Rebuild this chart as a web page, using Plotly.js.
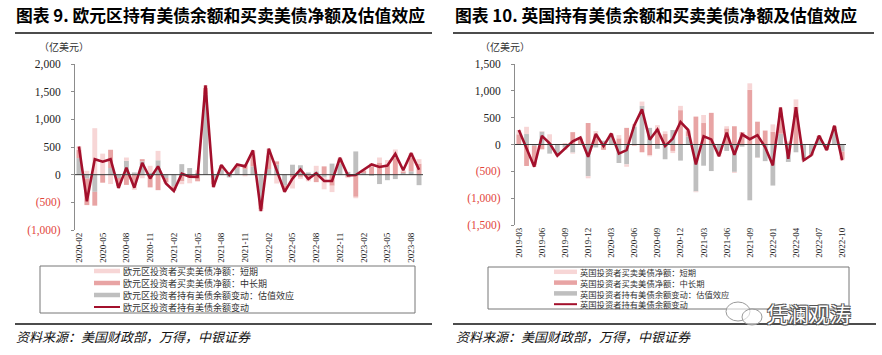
<!DOCTYPE html>
<html><head><meta charset="utf-8">
<script src="https://cdn.plot.ly/plotly-3.0.1.min.js"></script>
<style>html,body{margin:0;padding:0;background:#fff;}#chart{width:882px;height:355px;}</style>
</head><body><div id="chart"></div>
<script>
// ---------- Euro area (图表 9) ----------
const euMonths = ['2020-02','2020-03','2020-04','2020-05','2020-06','2020-07','2020-08','2020-09','2020-10','2020-11','2020-12',
  '2021-01','2021-02','2021-03','2021-04','2021-05','2021-06','2021-07','2021-08','2021-09','2021-10','2021-11','2021-12',
  '2022-01','2022-02','2022-03','2022-04','2022-05','2022-06','2022-07','2022-08','2022-09','2022-10','2022-11','2022-12',
  '2023-01','2023-02','2023-03','2023-04','2023-05','2023-06','2023-07','2023-08','2023-09'];
const euShort =     [60,70,840,380,-170,-30,60,-125,-65,120,170,-20,-25,-52,-96,50,45,-45,25,15,25,-30,90,-40,120,-160,-50,-200,-35,-30,100,-225,-115,25,-22,-26,20,55,90,85,155,20,80,80];
const euMidLong =   [150,-480,-250,-145,330,-150,-185,-150,40,-230,-280,-80,-60,-120,-60,-120,120,-80,60,30,40,80,200,-120,250,60,-60,-50,-40,-90,-135,150,-200,80,-40,-400,40,150,220,180,300,30,250,200];
const euValuation = [300,-70,-310,0,120,-60,250,40,240,40,260,-60,-210,190,120,30,1450,-100,90,-50,120,100,150,-500,100,180,-200,180,170,40,60,-40,200,200,50,420,30,-20,-170,-100,-80,30,60,-190];
const euTotal =     [510,-480,280,235,280,-240,125,-235,215,-70,150,-160,-295,18,-36,-40,1615,-225,175,-5,185,150,440,-660,470,80,-310,-70,95,-80,25,-115,-115,305,-12,-6,90,185,140,165,375,80,390,90];
const euYTicks = [-1000,-500,0,500,1000,1500,2000];
const euNames = ['欧元区投资者买卖美债净额：短期','欧元区投资者买卖美债净额：中长期','欧元区投资者持有美债余额变动：估值效应','欧元区投资者持有美债余额变动'];

// ---------- UK (图表 10) ----------
const ukMonths = ['2019-03','2019-04','2019-05','2019-06','2019-07','2019-08','2019-09','2019-10','2019-11','2019-12',
  '2020-01','2020-02','2020-03','2020-04','2020-05','2020-06','2020-07','2020-08','2020-09','2020-10','2020-11','2020-12',
  '2021-01','2021-02','2021-03','2021-04','2021-05','2021-06','2021-07','2021-08','2021-09','2021-10','2021-11',
  '2022-01','2022-02','2022-03','2022-04','2022-05','2022-06','2022-07','2022-08','2022-09','2022-10'];
const ukShort =     [80,135,-30,10,160,-10,-40,-20,20,-40,60,0,5,60,-45,50,80,-20,60,50,-40,80,20,-15,150,0,-40,40,-20,0,120,-5,0,135,90,20,140,0,0,5,0,10,-25];
const ukMidLong =   [190,-400,-360,-90,30,-20,20,230,100,400,190,-100,20,115,310,-20,-145,-200,300,195,-120,640,100,520,400,590,-60,300,340,230,1020,425,260,240,400,40,700,-15,-20,20,-15,40,-140];
const ukValuation = [0,195,-25,240,-170,-180,-60,-150,10,-590,-55,70,180,-345,-370,330,720,310,-80,-275,270,-300,150,-875,-395,-495,-120,-120,-510,-40,-1040,-245,-310,-765,200,-325,-145,-280,-180,140,-90,300,-130];
const ukTotal =     [270,-70,-415,160,20,-210,-80,60,130,-230,195,-30,205,-170,-105,360,655,90,280,-30,110,420,270,-370,155,95,-220,220,-190,190,100,175,-50,-390,690,-265,695,-295,-200,165,-105,350,-295];
const ukYTicks = [-1500,-1000,-500,0,500,1000,1500];
const ukNames = ['英国投资者买卖美债净额：短期','英国投资者买卖美债净额：中长期','英国投资者持有美债余额变动：估值效应','英国投资者持有美债余额变动'];

// ---------- styling ----------
const C_SHORT = '#F7D6D6', C_MID = '#E8A4A4', C_VAL = '#BFBFBF', C_LINE = '#A3102C', C_NEG = '#E2463C';
const W = 882, H = 355;
const px = x => x / W, py = y => 1 - y / H;
const CJK = '"Noto Sans CJK SC", "Noto Sans", sans-serif';
const SERIF = '"Liberation Serif", "DejaVu Serif", serif';

function fmtTick(v) {
  const s = String(Math.abs(v)).replace(/\B(?=(\d{3})+(?!\d))/g, ',');
  return v < 0 ? '<span style="color:' + C_NEG + '">(' + s + ')</span>' : s;
}
const every3 = arr => arr.filter((_, i) => i % 3 === 0);

function barTrace(x, y, color, xa, ya) {
  return {type: 'bar', x: x, y: y, xaxis: xa, yaxis: ya, marker: {color: color, line: {width: 0}},
          showlegend: false, hoverinfo: 'skip'};
}
function lineTrace(x, y, xa, ya) {
  return {type: 'scatter', mode: 'lines', x: x, y: y, xaxis: xa, yaxis: ya,
          line: {color: C_LINE, width: 2.6}, showlegend: false, hoverinfo: 'skip'};
}

const data = [
  barTrace(euMonths, euValuation, C_VAL, 'x', 'y'),
  barTrace(euMonths, euMidLong, C_MID, 'x', 'y'),
  barTrace(euMonths, euShort, C_SHORT, 'x', 'y'),
  lineTrace(euMonths, euTotal, 'x', 'y'),
  barTrace(ukMonths, ukValuation, C_VAL, 'x2', 'y2'),
  barTrace(ukMonths, ukMidLong, C_MID, 'x2', 'y2'),
  barTrace(ukMonths, ukShort, C_SHORT, 'x2', 'y2'),
  lineTrace(ukMonths, ukTotal, 'x2', 'y2')
];

function xAxis(domain, cats, anchor) {
  return {domain: domain, anchor: anchor, type: 'category', range: [-0.5, cats.length - 0.5],
    tickmode: 'array', tickvals: every3(cats), ticktext: every3(cats), tickangle: -90,
    tickfont: {family: SERIF, size: 9, color: '#222'}, showline: false, showgrid: false, zeroline: false,
    ticks: '', fixedrange: true};
}
function yAxis(domain, ticks, anchor) {
  return {domain: domain, anchor: anchor, range: [ticks[0], ticks[ticks.length - 1]],
    tickmode: 'array', tickvals: ticks, ticktext: ticks.map(fmtTick),
    tickfont: {family: SERIF, size: 11.5, color: '#222'}, showline: true, linecolor: '#8c8c8c', linewidth: 1,
    ticks: 'outside', ticklen: 3, tickcolor: '#8c8c8c', showgrid: false, zeroline: false,
    ticklabelstandoff: 8, fixedrange: true};
}

const shapes = [];
const annotations = [];
function hline(x0, x1, y, color, width, dash) {
  shapes.push({type: 'line', xref: 'paper', yref: 'paper', x0: px(x0), x1: px(x1), y0: py(y), y1: py(y),
               line: {color: color, width: width, dash: dash || 'solid'}, layer: 'above'});
}
function rect(x0, y0, x1, y1, color) {
  shapes.push({type: 'rect', xref: 'paper', yref: 'paper', x0: px(x0), x1: px(x1), y0: py(y1), y1: py(y0),
               line: {color: color, width: 1}, fillcolor: 'rgba(0,0,0,0)'});
}
function text(t, x, y, size, opts) {
  opts = opts || {};
  annotations.push({text: t, xref: 'paper', yref: 'paper', x: px(x), y: py(y), xanchor: opts.xanchor || 'left',
    yanchor: 'middle', align: 'left', showarrow: false, borderpad: 0,
    font: Object.assign({family: CJK, size: size, color: opts.color || '#222'}, opts.font || {})});
}

// zero lines above bars
shapes.push({type: 'line', xref: 'x domain', yref: 'y', x0: 0, x1: 1, y0: 0, y1: 0, line: {color: '#3a3a3a', width: 1}, layer: 'above'});
shapes.push({type: 'line', xref: 'x2 domain', yref: 'y2', x0: 0, x1: 1, y0: 0, y1: 0, line: {color: '#3a3a3a', width: 1}, layer: 'above'});

// titles and rules
text('图表 9. 欧元区持有美债余额和买卖美债净额及估值效应', 15, 15, 16.8, {color: '#000', font: {weight: 'bold'}});
text('图表 10. 英国持有美债余额和买卖美债净额及估值效应', 454, 15, 16.8, {color: '#000', font: {weight: 'bold'}});
hline(15, 432, 33, '#111', 1.6);
hline(453, 874, 33, '#111', 1.6);
text('（亿美元）', 38, 46, 10, {color: '#333'});
text('（亿美元）', 479, 46, 10, {color: '#333'});

// legends (drawn as layout decoration)
const swatchColors = [C_SHORT, C_MID, C_VAL, C_LINE];
const swatchWidths = [4.5, 4.5, 4.5, 2];
// Euro-area legend: one text per row
rect(40, 266, 415, 313, '#777');
[271, 283, 295, 307].forEach((y, i) => {
  hline(94, 120, y, swatchColors[i], swatchWidths[i]);
  text(euNames[i], 122, y, 9, {color: '#333'});
});
// UK legend: one multi-line text block
(function () {
  const fs = 8.3, step = fs * 1.3, cy = 288;
  rect(488, 267, 849, 309, '#777');
  ukNames.forEach((n, i) => hline(554, 577, cy + (i - 1.5) * step, swatchColors[i], swatchWidths[i]));
  text(ukNames.join('<br>'), 579, cy, fs, {color: '#333'});
})();

// source lines
hline(15, 432, 324, '#111', 1.6);
hline(453, 876, 324, '#111', 1.6);
text('资料来源：美国财政部，万得，中银证券', 15, 336, 13, {color: '#111', font: {style: 'italic'}});
text('资料来源：美国财政部，万得，中银证券', 455, 336, 13, {color: '#111', font: {style: 'italic'}});

// watermark
shapes.push({type: 'circle', xref: 'paper', yref: 'paper', x0: px(726), x1: px(750), y0: py(321), y1: py(302),
             line: {color: '#9a9a9a', width: 1}, fillcolor: 'rgba(255,255,255,0.6)'});
shapes.push({type: 'circle', xref: 'paper', yref: 'paper', x0: px(742), x1: px(762), y0: py(325), y1: py(309),
             line: {color: '#9a9a9a', width: 1}, fillcolor: 'rgba(255,255,255,0.6)'});
text('凭澜观涛', 766, 313, 21, {color: '#ffffff', font: {shadow: '-1px -1px 0 #555, 1px -1px 0 #555, -1px 1px 0 #555, 1px 1px 0 #555'}});

const layout = {
  width: W, height: H, margin: {l: 0, r: 0, t: 0, b: 0},
  paper_bgcolor: '#fff', plot_bgcolor: 'rgba(0,0,0,0)',
  showlegend: false, barmode: 'relative', bargap: 0.38,
  xaxis: xAxis([px(75), px(423)], euMonths, 'y'),
  yaxis: yAxis([py(230), py(64)], euYTicks, 'x'),
  xaxis2: xAxis([px(515), px(846)], ukMonths, 'y2'),
  yaxis2: yAxis([py(225), py(64)], ukYTicks, 'x2'),
  shapes: shapes, annotations: annotations
};

Plotly.newPlot('chart', data, layout, {displayModeBar: false, staticPlot: true});
</script>
</body></html>
